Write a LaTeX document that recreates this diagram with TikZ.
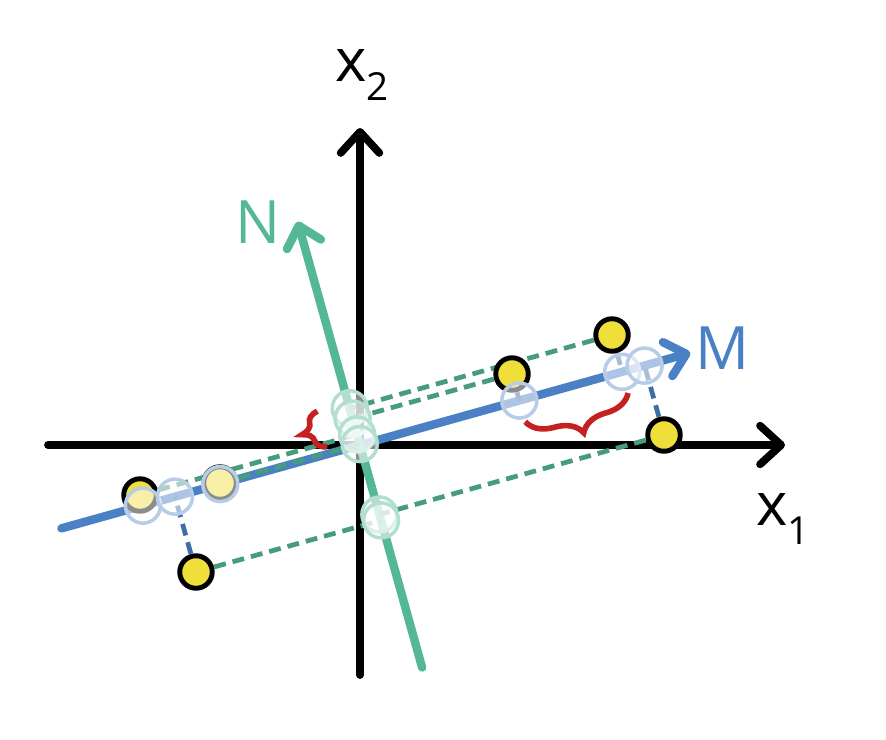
\documentclass[tikz,border=0pt]{standalone}
\usepackage{fontspec}
\setmainfont{Open Sans}
\usetikzlibrary{arrows.meta,calc,decorations.pathreplacing}

\definecolor{mblue}{RGB}{74,128,196}
\definecolor{ngreen}{RGB}{84,184,148}
\definecolor{dotyellow}{RGB}{240,222,58}
\definecolor{spreadred}{RGB}{196,34,34}

\newcommand{\lowsub}[1]{\raisebox{-5.4pt}{\fontsize{11}{11}\selectfont #1}}

\tikzset{
  axis/.style={line width=2.2pt, line cap=round,
    -{Straight Barb[length=6pt,width=11pt,round]}},
  mline/.style={mblue, line width=2.4pt, line cap=round,
    -{Straight Barb[length=5.5pt,width=10pt,round]}},
  nline/.style={ngreen, line width=2.4pt, line cap=round,
    -{Straight Barb[length=5.5pt,width=10pt,round]}},
  ndash/.style={ngreen!85!black, line width=1.35pt, dash pattern=on 3.4pt off 2pt},
  mdash/.style={mblue!85!black, line width=1.35pt, dash pattern=on 3.4pt off 2pt},
  ydot/.style={circle, fill=dotyellow, draw=black, line width=1.4pt,
    minimum size=0.325cm, inner sep=0},
  mring/.style={circle, draw=mblue!40, line width=1pt, fill=white,
    fill opacity=0.55, minimum size=0.35cm, inner sep=0},
  nring/.style={circle, draw=ngreen!45, line width=1pt, fill=white,
    fill opacity=0.55, minimum size=0.35cm, inner sep=0},
  spread/.style={spreadred, line width=1.6pt, decorate},
  lbl/.style={font=\fontsize{17}{20}\selectfont, inner sep=0}
}

\begin{document}
\begin{tikzpicture}[x=0.01cm,y=0.01cm]
  \def\ang{15.6}  % angle of M
  \useasboundingbox (-360,-294) rectangle (526,445);

  % axes
  \coordinate (x1tail) at (-312,0);
  \coordinate (x1tip) at (425,0);
  \coordinate (x2tail) at (0,-230);
  \coordinate (x2tip) at (0,317);
  \draw[axis] (x1tail) -- (x1tip);
  \draw[axis] (x2tail) -- (x2tip);

  % new directions M and N
  \coordinate (mtail) at (\ang+180:310);
  \coordinate (mtip) at (\ang:343);
  \coordinate (ntail) at (\ang-90:231);
  \coordinate (ntip) at (\ang+90:232);
  \draw[mline] (mtail) -- (mtip);
  \draw[nline] (ntail) -- (ntip);

  % samples and their projections
  \foreach \n/\x/\y in {1/252/110, 2/152/71, 3/304/10, 4/-220/-50, 5/-140/-38, 6/-164/-127} {
    \coordinate (p\n) at (\x,\y);
    \coordinate (m\n) at ($(mtail)!(p\n)!(mtip)$);
    \coordinate (n\n) at ($(ntail)!(p\n)!(ntip)$);
  }

  % dashed links
  \foreach \n in {1,...,6} {
    \draw[ndash] (p\n) -- (n\n);
    \draw[mdash] (p\n) -- (m\n);
  }

  % sample dots
  \foreach \n in {1,...,6}
    \node[ydot] (d\n) at (p\n) {};

  % projected points
  \foreach \n in {1,...,6} {
    \node[mring] (mr\n) at (m\n) {};
    \node[nring] (nr\n) at (n\n) {};
  }

  % spread along M and along N
  \draw[spread, decoration={brace, mirror, amplitude=7.5pt}]
    ($(m2)+(\ang-90:22)$) -- ($(m1)+(\ang-90:22)$);
  \draw[spread, decoration={brace, amplitude=6pt}]
    ($(n5)+(\ang+180:32)+(\ang+90:6)$) -- ($(n1)+(\ang+180:32)+(\ang+90:6)$);

  % labels
  \node[lbl] (x2lab) at (2,370) {x\lowsub{2}};
  \node[lbl] (x1lab) at (423,-74) {x\lowsub{1}};
  \node[lbl, ngreen] (nlab) at (-102,223) {N};
  \node[lbl, mblue] (mlab) at (362,97) {M};
\end{tikzpicture}
\end{document}
